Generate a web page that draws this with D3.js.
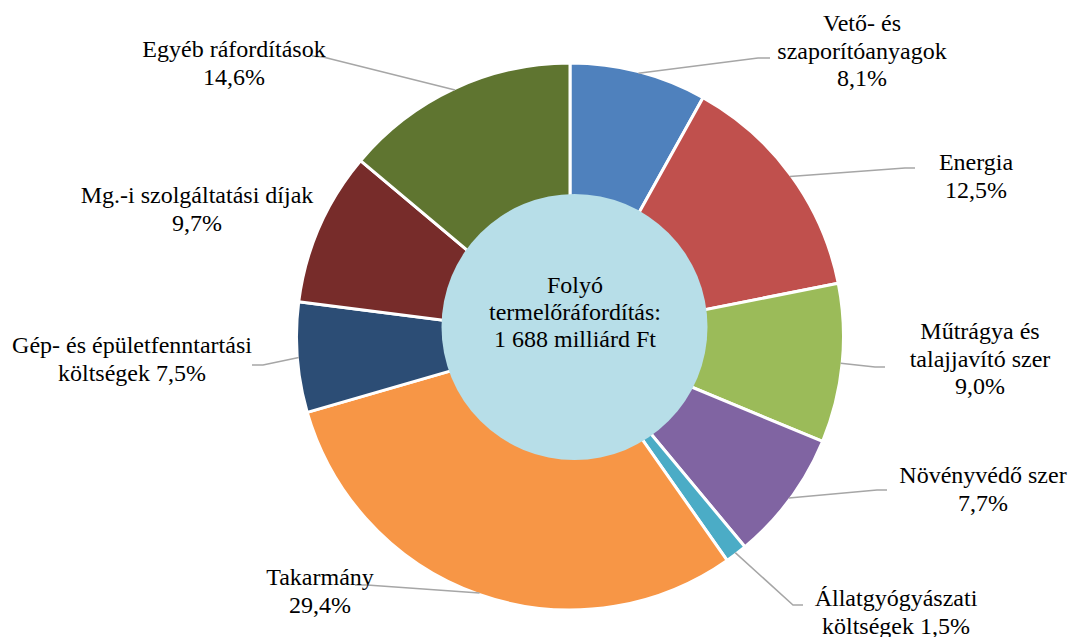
<!DOCTYPE html>
<html>
<head>
<meta charset="utf-8">
<script src="https://cdn.jsdelivr.net/npm/d3@7"></script>
<style>
  html, body { margin: 0; padding: 0; background: #fff; }
</style>
</head>
<body>
<svg id="chart" width="1069" height="637"></svg>
<script>
// categories, in clockwise order from 12 o'clock
var aCategories = [
	"Vető- és szaporítóanyagok",
	"Energia",
	"Műtrágya és talajjavító szer",
	"Növényvédő szer",
	"Állatgyógyászati költségek",
	"Takarmány",
	"Gép- és épületfenntartási költségek",
	"Mg.-i szolgáltatási díjak",
	"Egyéb ráfordítások"
];
// slice sizes as drawn in the picture (share, %)
var aValues = [8.1, 13.8, 9.4, 7.7, 1.3, 30.3, 6.5, 9.1, 13.9];
// label texts as printed, one entry per line
var aLabels = [
	["Vető- és", "szaporítóanyagok", "8,1%"],
	["Energia", "12,5%"],
	["Műtrágya és", "talajjavító szer", "9,0%"],
	["Növényvédő szer", "7,7%"],
	["Állatgyógyászati", "költségek 1,5%"],
	["Takarmány", "29,4%"],
	["Gép- és épületfenntartási", "költségek 7,5%"],
	["Mg.-i szolgáltatási díjak", "9,7%"],
	["Egyéb ráfordítások", "14,6%"]
];
var aCenterText = ["Folyó", "termelőráfordítás:", "1 688 milliárd Ft"];

var aColors = ["#4F81BD", "#C0504D", "#9BBB59", "#8064A2", "#4BACC6",
	"#F79646", "#2C4D75", "#772C2A", "#5F7530"];

// label layout: text centre x, first baseline y, leader elbow and end (null = no leader)
var aLayout = [
	{ x: 862, y: 31, elbow: [758, 58], end: [770, 58] },
	{ x: 976, y: 170, elbow: [905, 168], end: [915, 168] },
	{ x: 980, y: 339, elbow: [875, 367], end: [885, 367] },
	{ x: 983, y: 483, elbow: [877, 490], end: [887, 490] },
	{ x: 896, y: 606, elbow: [793, 605], end: [803, 605] },
	{ x: 320, y: 585, elbow: [367, 585], end: [355, 585] },
	{ x: 132, y: 353, elbow: [263, 365], end: [252, 365] },
	{ x: 197, y: 203, elbow: null, end: null },
	{ x: 234, y: 57, elbow: [323, 57], end: [312, 56] }
];

var sFont = "'Liberation Serif', 'Times New Roman', Tinos, 'DejaVu Serif', serif";
var iCx = 570, iCy = 336.5, iRadius = 273.5;
var iLineH = 27.5;

var oSvg = d3.select("#chart");

var oPie = d3.pie().sort(null).value(function (d) { return d; });
var aArcs = oPie(aValues);

var oArc = d3.arc().innerRadius(0).outerRadius(iRadius);
var oEdge = d3.arc().innerRadius(iRadius - 1.5).outerRadius(iRadius - 1.5);

var oPieG = oSvg.append("g")
	.attr("transform", "translate(" + iCx + "," + iCy + ")");

oPieG.selectAll("path.slice")
	.data(aArcs)
	.enter().append("path")
	.attr("class", "slice")
	.attr("d", oArc)
	.attr("fill", function (d, i) { return aColors[i]; })
	.attr("stroke", "#fff")
	.attr("stroke-width", 3)
	.attr("stroke-linejoin", "round");

// centre disc (sits a bit above the pie centre in the original)
oSvg.append("circle")
	.attr("cx", 574.5)
	.attr("cy", 327)
	.attr("r", 133)
	.attr("fill", "#B7DEE8");

oSvg.append("text")
	.attr("text-anchor", "middle")
	.style("font-family", sFont)
	.style("font-size", "24px")
	.attr("fill", "#000")
	.selectAll("tspan")
	.data(aCenterText)
	.enter().append("tspan")
	.attr("x", 575)
	.attr("y", function (d, i) { return 293 + i * 27; })
	.text(function (d) { return d; });

// leader lines
var oLine = d3.line();
oSvg.append("g")
	.selectAll("path")
	.data(aArcs.filter(function (d, i) { return aLayout[i].elbow; }))
	.enter().append("path")
	.attr("d", function (d) {
		var oL = aLayout[d.index];
		var aP = oEdge.centroid(d);
		return oLine([[aP[0] + iCx, aP[1] + iCy], oL.elbow, oL.end]);
	})
	.attr("fill", "none")
	.attr("stroke", "#a6a6a6")
	.attr("stroke-width", 1.5);

// labels
var oLabels = oSvg.append("g")
	.selectAll("text")
	.data(aLabels)
	.enter().append("text")
	.attr("text-anchor", "middle")
	.style("font-family", sFont)
	.style("font-size", "24px")
	.attr("fill", "#000");

oLabels.selectAll("tspan")
	.data(function (d, i) {
		return d.map(function (s, j) { return { s: s, i: i, j: j }; });
	})
	.enter().append("tspan")
	.attr("x", function (d) { return aLayout[d.i].x; })
	.attr("y", function (d) { return aLayout[d.i].y + d.j * iLineH; })
	.text(function (d) { return d.s; });
</script>
</body>
</html>
